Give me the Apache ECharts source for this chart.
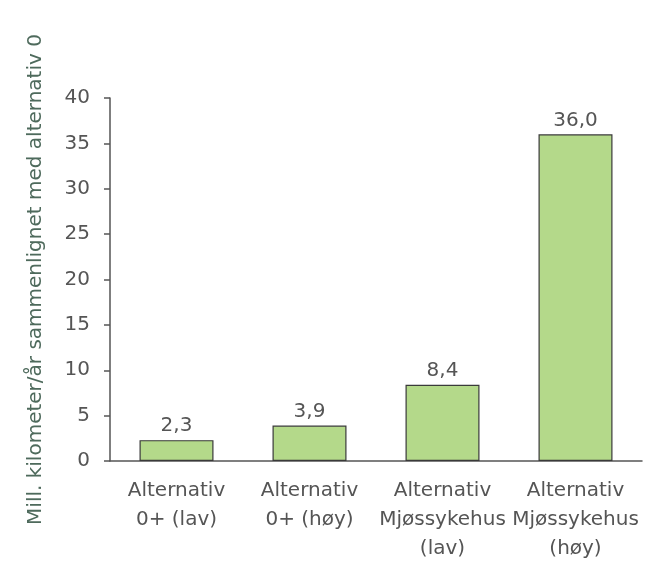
<!DOCTYPE html>
<html><head><meta charset="utf-8">
<script src="https://cdn.jsdelivr.net/npm/echarts@6/dist/echarts.min.js"></script>
<style>html,body{margin:0;padding:0;background:#fff}#c{width:671px;height:579px}</style>
</head><body><div id="c"></div>
<script>
const categories = ["Alternativ\n0+ (lav)", "Alternativ\n0+ (høy)", "Alternativ\nMjøssykehus\n(lav)", "Alternativ\nMjøssykehus\n(høy)"];
const values = [2.3, 3.9, 8.4, 36.0];
const yTicks = [0, 5, 10, 15, 20, 25, 30, 35, 40];
const yTitle = "Mill. kilometer/år sammenlignet med alternativ 0";

const FONT = 'DejaVu Sans';
const chart = echarts.init(document.getElementById('c'), null, {renderer: 'canvas'});
chart.setOption({
  animation: false,
  grid: {left: 110, right: 29, top: 98, bottom: 118, containLabel: false},
  xAxis: {
    type: 'category', data: categories,
    axisLine: {lineStyle: {color: '#555', width: 1.5}},
    axisTick: {show: false},
    axisLabel: {color: '#555', fontFamily: FONT, fontSize: 20, lineHeight: 29, margin: 15, interval: 0}
  },
  yAxis: {
    type: 'value', min: yTicks[0], max: yTicks[yTicks.length-1], interval: 5,
    name: yTitle, nameLocation: 'middle', nameGap: 64,
    nameTextStyle: {color: '#4e6a5c', fontFamily: FONT, fontSize: 20},
    axisLine: {show: true, lineStyle: {color: '#555', width: 1.5}},
    axisTick: {show: true, length: 6, lineStyle: {color: '#555', width: 1.5}},
    splitLine: {show: false},
    axisLabel: {color: '#555', fontFamily: FONT, fontSize: 20, margin: 20}
  },
  series: [{
    type: 'bar', data: values, barWidth: 74,
    itemStyle: {color: '#b4d98a', borderColor: '#3a3a3a', borderWidth: 1.2},
    label: {show: true, position: 'top', distance: 4, color: '#555', fontFamily: FONT, fontSize: 20,
      formatter: p => p.value.toFixed(1).replace('.', ',')}
  }]
});
</script></body></html>
